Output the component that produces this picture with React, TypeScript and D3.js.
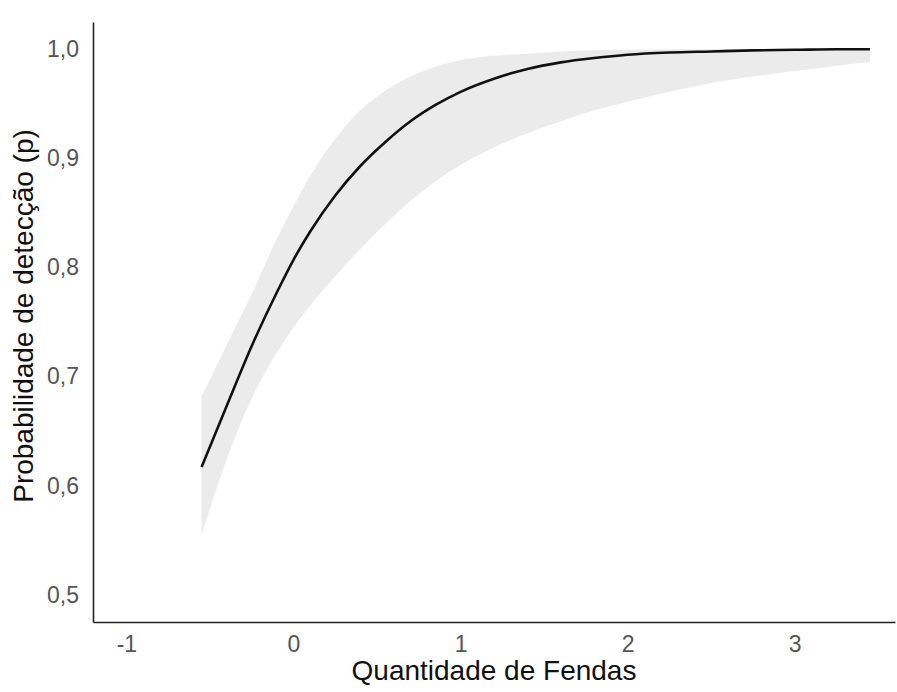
import React, { useEffect, useRef } from 'react';
import * as d3 from 'd3';

// values
const fendas = [-0.55, -0.4, -0.25, -0.1, 0, 0.1, 0.25, 0.4, 0.55, 0.7, 0.85, 1.0, 1.2, 1.4, 1.6, 1.8, 2.0, 2.25, 2.5, 2.75, 3.0, 3.25, 3.45];
const prob = [0.617, 0.673, 0.728, 0.777, 0.807, 0.833, 0.866, 0.893, 0.915, 0.934, 0.949, 0.961, 0.973, 0.982, 0.988, 0.992, 0.995, 0.997, 0.998, 0.999, 0.9995, 1.0, 1.0];
const upper = [0.682, 0.729, 0.776, 0.826, 0.856, 0.884, 0.918, 0.944, 0.962, 0.975, 0.984, 0.990, 0.994, 0.996, 0.998, 0.999, 0.9995, 1.0, 1.0, 1.0, 1.0, 1.0, 1.0];
const lower = [0.555, 0.624, 0.680, 0.722, 0.745, 0.765, 0.792, 0.817, 0.840, 0.861, 0.879, 0.894, 0.910, 0.923, 0.934, 0.944, 0.952, 0.961, 0.969, 0.975, 0.980, 0.985, 0.988];

const xTicks = [-1, 0, 1, 2, 3];
const yTicks = [0.5, 0.6, 0.7, 0.8, 0.9, 1.0];

const xTitle = 'Quantidade de Fendas';
const yTitle = 'Probabilidade de detecção (p)';

const App = () => {
    const svgRef = useRef(null);

    useEffect(() => {
        const width = 897;
        const height = 692;
        const margin = { top: 22, right: 2, bottom: 70, left: 93 };
        const innerW = width - margin.left - margin.right;
        const innerH = height - margin.top - margin.bottom;

        const svg = d3.select(svgRef.current);
        svg.selectAll('*').remove();
        svg.attr('width', width).attr('height', height);

        const g = svg.append('g')
            .attr('transform', `translate(${margin.left},${margin.top})`);

        const xScale = d3.scaleLinear()
            .domain([-1.2, 3.6])
            .range([0, innerW]);

        const yScale = d3.scaleLinear()
            .domain([0.475, 1.025])
            .range([innerH, 0]);

        const data = fendas.map((x, i) => ({ x, p: prob[i], lo: lower[i], hi: upper[i] }));

        // confidence band
        const area = d3.area()
            .x(d => xScale(d.x))
            .y0(d => yScale(d.lo))
            .y1(d => yScale(d.hi))
            .curve(d3.curveMonotoneX);

        g.append('path')
            .datum(data)
            .attr('d', area)
            .attr('fill', '#ebebeb');

        // fitted curve
        const line = d3.line()
            .x(d => xScale(d.x))
            .y(d => yScale(d.p))
            .curve(d3.curveMonotoneX);

        g.append('path')
            .datum(data)
            .attr('d', line)
            .attr('fill', 'none')
            .attr('stroke', '#111')
            .attr('stroke-width', 2.6);

        const fmt = d => d3.format('.1f')(d).replace('.', ',');

        // X-axis
        const xAxis = g.append('g')
            .attr('transform', `translate(0,${innerH})`)
            .call(d3.axisBottom(xScale).tickValues(xTicks).tickSize(0).tickPadding(14).tickFormat(d => String(d)));

        // Y-axis
        const yAxis = g.append('g')
            .call(d3.axisLeft(yScale).tickValues(yTicks).tickSize(0).tickPadding(14).tickFormat(fmt));

        [xAxis, yAxis].forEach(ax => {
            ax.select('.domain').attr('stroke', '#222').attr('stroke-width', 1.6);
            ax.selectAll('text')
                .attr('fill', '#555')
                .style('font-family', '"Liberation Sans", Arial, sans-serif')
                .style('font-size', '23px');
        });

        // X-axis label
        svg.append('text')
            .attr('x', margin.left + innerW / 2)
            .attr('y', 680)
            .style('text-anchor', 'middle')
            .style('font-family', '"Liberation Sans", Arial, sans-serif')
            .style('font-size', '28px')
            .attr('fill', '#111')
            .text(xTitle);

        // Y-axis label
        svg.append('text')
            .attr('transform', 'rotate(-90)')
            .attr('x', -316)
            .attr('y', 33)
            .style('text-anchor', 'middle')
            .style('font-family', '"Liberation Sans", Arial, sans-serif')
            .style('font-size', '28px')
            .attr('fill', '#111')
            .text(yTitle);
    }, []);

    return (
        <svg ref={svgRef} style={{ position: 'absolute', left: 0, top: 0, background: '#fff' }}></svg>
    );
};

export default App;
